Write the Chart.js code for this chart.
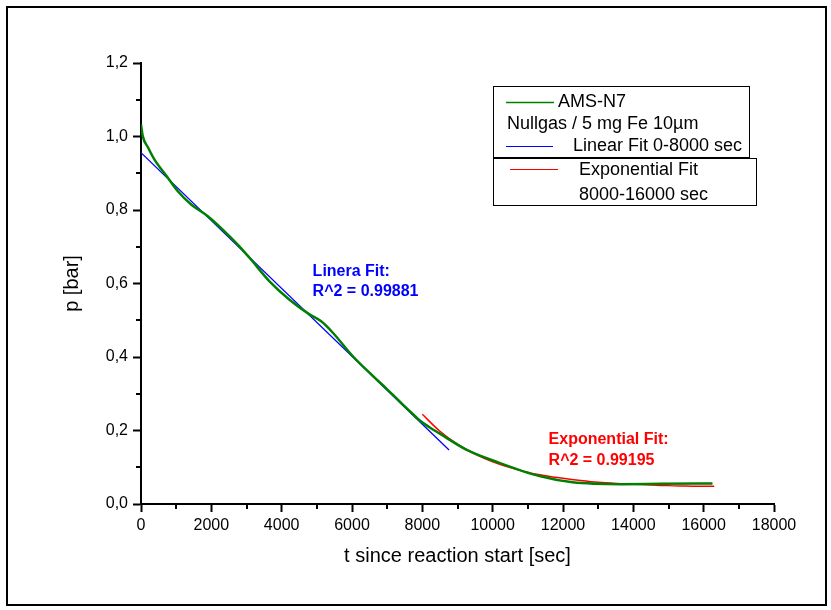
<!DOCTYPE html>
<html>
<head>
<meta charset="utf-8">
<script src="https://cdn.jsdelivr.net/npm/chart.js@4.4.1/dist/chart.umd.min.js"></script>
<style>
html, body { margin:0; padding:0; background:#fff; }
</style>
</head>
<body>
<canvas id="chart" width="831" height="610"></canvas>
<script>
var greenT = [0, 50, 200, 384, 763, 1047, 1427, 1900, 2374, 2750, 3085, 3654, 4222, 4791, 5124, 5455, 6023, 6600, 7000, 7302, 7650, 7919, 8200, 8487, 9247, 10193, 11331, 12270, 13690, 14800, 16250];
var greenP = [1.033, 1.001, 0.970, 0.937, 0.888, 0.851, 0.815, 0.783, 0.742, 0.706, 0.670, 0.606, 0.556, 0.516, 0.497, 0.466, 0.402, 0.348, 0.312, 0.284, 0.252, 0.228, 0.209, 0.192, 0.148, 0.112, 0.076, 0.059, 0.054, 0.055, 0.056];

// linear fit 0-8000 sec
var linT = [0, 8760];
var linP = [0.956, 0.147];

// exponential fit 8000-16000 sec
var expT = [8000, 8500, 9000, 9500, 10000, 10500, 11000, 11500, 12000, 12500, 13000, 13500, 14000, 14500, 15000, 15500, 16000, 16300];
var expP = [0.244, 0.198, 0.163, 0.136, 0.115, 0.099, 0.086, 0.077, 0.070, 0.064, 0.059, 0.056, 0.054, 0.052, 0.050, 0.049, 0.048, 0.048];

var seriesNames = ['AMS-N7', 'Linear Fit 0-8000 sec', 'Exponential Fit'];
var seriesColors = ['#008000', '#0000ff', '#ff0000'];
var legendSub = ['Nullgas / 5 mg Fe 10µm', '8000-16000 sec'];
var linNote = ['Linera Fit:', 'R^2 = 0.99881'];
var expNote = ['Exponential Fit:', 'R^2 = 0.99195'];

var xTitle = 't since reaction start [sec]';
var yTitle = 'p [bar]';

var FONT = "Arial, 'Liberation Sans', sans-serif";

function pts(xs, ys) {
  var out = [];
  for (var i = 0; i < xs.length; i++) out.push({x: xs[i], y: ys[i]});
  return out;
}

// frame, minor ticks, legend boxes and fit notes
var decor = {
  id: 'decor',
  afterDraw: function(chart) {
    var ctx = chart.ctx;
    var xs = chart.scales.x, ys = chart.scales.y;
    var area = chart.chartArea;
    ctx.save();

    // outer frame
    ctx.strokeStyle = '#000';
    ctx.lineWidth = 2;
    ctx.strokeRect(7, 7, 819, 598);

    // minor ticks
    ctx.lineWidth = 2;
    ctx.beginPath();
    for (var v = 1000; v < 18000; v += 2000) {
      var px = Math.round(xs.getPixelForValue(v));
      ctx.moveTo(px, area.bottom);
      ctx.lineTo(px, area.bottom + 5);
    }
    for (var k = 1; k < 12; k += 2) {
      var py = Math.round(ys.getPixelForValue(k / 10));
      ctx.moveTo(area.left, py);
      ctx.lineTo(area.left - 5, py);
    }
    ctx.stroke();

    // legend
    ctx.lineWidth = 1;
    ctx.strokeRect(493.5, 86.5, 256, 71);
    ctx.strokeRect(493.5, 158.5, 263, 47);
    ctx.font = '18px ' + FONT;
    ctx.textBaseline = 'middle';
    ctx.textAlign = 'left';
    ctx.fillStyle = '#000';

    ctx.strokeStyle = seriesColors[0];
    ctx.lineWidth = 1.5;
    ctx.beginPath(); ctx.moveTo(506, 102.5); ctx.lineTo(554, 102.5); ctx.stroke();
    ctx.fillText(seriesNames[0], 558, 102);
    ctx.fillText(legendSub[0], 507, 124);

    ctx.strokeStyle = seriesColors[1];
    ctx.lineWidth = 1;
    ctx.beginPath(); ctx.moveTo(506, 146.5); ctx.lineTo(553, 146.5); ctx.stroke();
    ctx.fillText(seriesNames[1], 573, 146);

    ctx.strokeStyle = seriesColors[2];
    ctx.beginPath(); ctx.moveTo(510, 169.5); ctx.lineTo(558, 169.5); ctx.stroke();
    ctx.fillText(seriesNames[2], 579, 170);
    ctx.fillText(legendSub[1], 579, 195);

    // fit notes
    ctx.font = 'bold 16px ' + FONT;
    ctx.fillStyle = seriesColors[1];
    var lx = xs.getPixelForValue(4880), ly = ys.getPixelForValue(0.632);
    ctx.fillText(linNote[0], lx, ly);
    ctx.fillText(linNote[1], lx, ly + 20);
    ctx.fillStyle = seriesColors[2];
    var ex = xs.getPixelForValue(11590), ey = ys.getPixelForValue(0.176);
    ctx.fillText(expNote[0], ex, ey);
    ctx.fillText(expNote[1], ex, ey + 21);

    ctx.restore();
  }
};

new Chart(document.getElementById('chart').getContext('2d'), {
  type: 'scatter',
  data: {
    datasets: [
      {
        label: seriesNames[0],
        data: pts(greenT, greenP),
        showLine: true,
        borderColor: seriesColors[0],
        borderWidth: 2.5,
        pointRadius: 0,
        cubicInterpolationMode: 'monotone',
        order: 1
      },
      {
        label: seriesNames[1],
        data: pts(linT, linP),
        showLine: true,
        borderColor: seriesColors[1],
        borderWidth: 1.3,
        pointRadius: 0,
        order: 3
      },
      {
        label: seriesNames[2],
        data: pts(expT, expP),
        showLine: true,
        borderColor: seriesColors[2],
        borderWidth: 1.5,
        pointRadius: 0,
        cubicInterpolationMode: 'monotone',
        order: 2
      }
    ]
  },
  options: {
    responsive: false,
    animation: false,
    layout: { padding: { left: 0, right: 57, top: 63, bottom: 0 } },
    plugins: {
      legend: { display: false },
      tooltip: { enabled: false }
    },
    scales: {
      x: {
        type: 'linear',
        min: 0,
        max: 18000,
        afterFit: function(s) { s.height = 106; },
        ticks: {
          stepSize: 2000,
          padding: 4,
          color: '#000',
          font: { family: FONT, size: 16 },
          maxRotation: 0,
          callback: function(v) { return String(v); }
        },
        grid: { drawOnChartArea: false, drawTicks: true, tickLength: 8, tickWidth: 2, color: '#000' },
        border: { display: true, color: '#000', width: 2 },
        title: {
          display: true,
          text: xTitle,
          color: '#000',
          font: { family: FONT, size: 20 },
          padding: { top: 0, bottom: 42 }
        }
      },
      y: {
        min: 0,
        max: 1.2,
        afterFit: function(s) { s.width = 141; },
        ticks: {
          stepSize: 0.2,
          padding: 5,
          color: '#000',
          font: { family: FONT, size: 16 },
          callback: function(v) { return v.toFixed(1).replace('.', ','); }
        },
        grid: { drawOnChartArea: false, drawTicks: true, tickLength: 8, tickWidth: 2, color: '#000' },
        border: { display: true, color: '#000', width: 2 },
        title: {
          display: true,
          text: yTitle,
          color: '#000',
          font: { family: FONT, size: 20 },
          padding: { top: 60, bottom: 0 }
        }
      }
    }
  },
  plugins: [decor]
});
</script>
</body>
</html>
